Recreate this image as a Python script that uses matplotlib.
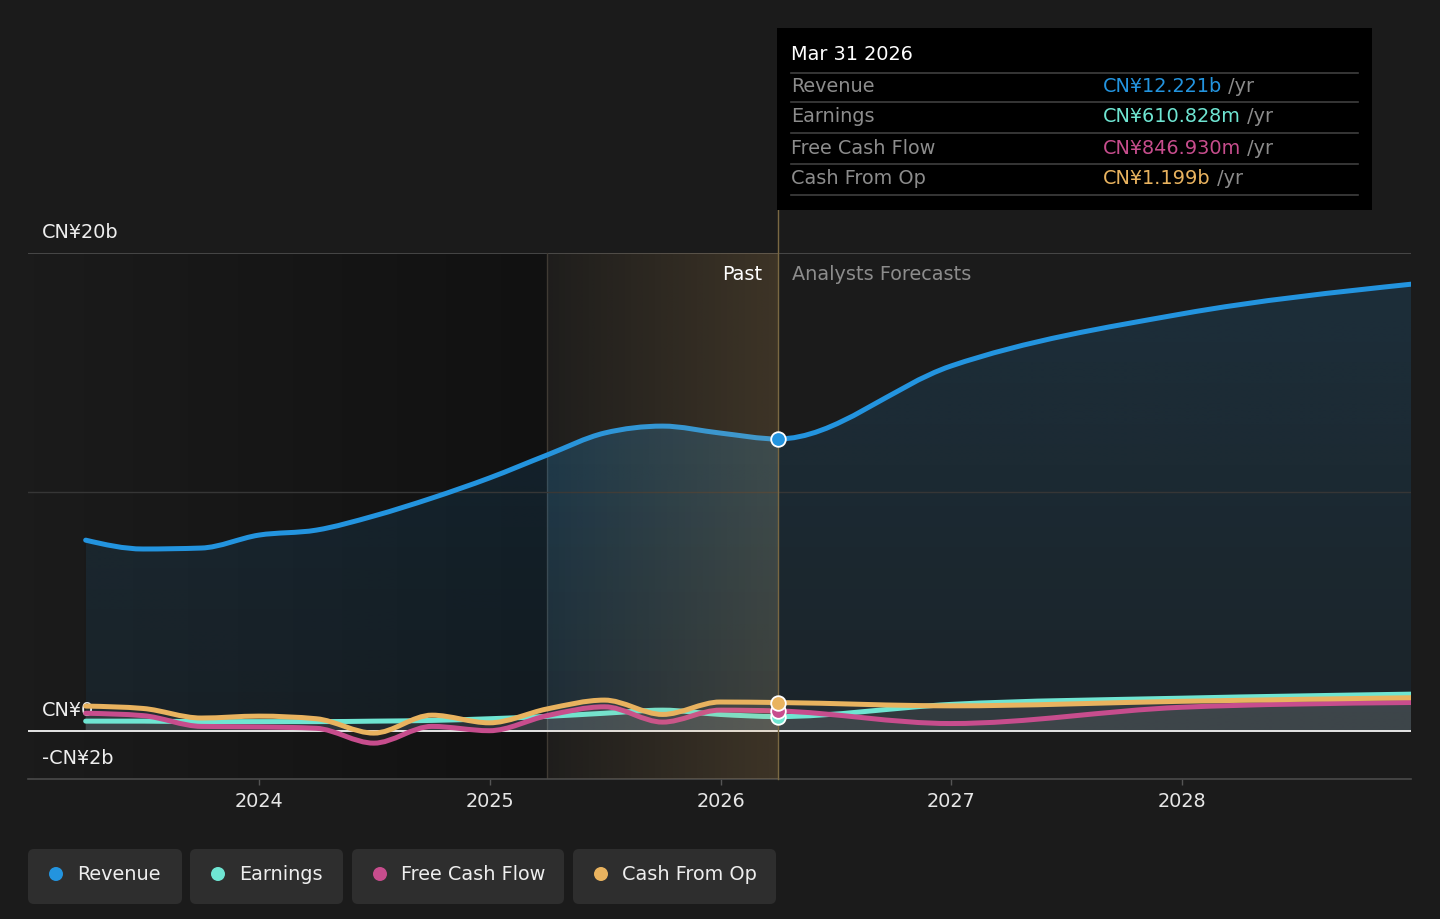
import numpy as np
import matplotlib
matplotlib.use("Agg")
import matplotlib.pyplot as plt
from matplotlib.path import Path
from matplotlib.patches import PathPatch, FancyBboxPatch, Rectangle, Circle
from matplotlib.colors import to_rgb

# ---------------- data (values in CN¥ billions, dates as decimal years) ----------------
past_dates = [2023.247, 2023.496, 2023.748, 2023.997, 2024.247, 2024.496, 2024.748,
              2024.997, 2025.247, 2025.496, 2025.748, 2025.997, 2026.247]
forecast_dates = [2026.997, 2027.997, 2028.997]

revenue_past = [7.99, 7.62, 7.66, 8.20, 8.41, 9.00, 9.75, 10.59, 11.55, 12.47, 12.76, 12.47, 12.221]
revenue_fc = [15.27, 17.45, 18.70]
earnings_past = [0.42, 0.42, 0.40, 0.40, 0.40, 0.42, 0.45, 0.52, 0.62, 0.75, 0.88, 0.70, 0.611]
earnings_fc = [1.12, 1.38, 1.55]
fcf_past = [0.75, 0.65, 0.20, 0.18, 0.12, -0.50, 0.20, 0.02, 0.65, 1.02, 0.38, 0.88, 0.847]
fcf_fc = [0.32, 1.00, 1.20]
cfo_past = [1.05, 0.95, 0.55, 0.63, 0.52, -0.08, 0.67, 0.35, 0.93, 1.30, 0.70, 1.22, 1.199]
cfo_fc = [1.06, 1.25, 1.40]

series_names = ["Revenue", "Earnings", "Free Cash Flow", "Cash From Op"]
series_colors = ["#2394df", "#6fe5d2", "#c74d8d", "#e9b35f"]

year_ticks = [2024, 2025, 2026, 2027, 2028]
year_labels = ["2024", "2025", "2026", "2027", "2028"]
y_label_values = [20, 0, -2]
y_label_texts = ["CN¥20b", "CN¥0", "-CN¥2b"]

highlight_start = 2025.247
today = 2026.247
tooltip_date = "Mar 31 2026"
tooltip_values = ["CN¥12.221b", "CN¥610.828m", "CN¥846.930m", "CN¥1.199b"]

# ---------------- helpers ----------------
def monotone_path(xs, ys, close_to_zero=False):
    """Bezier path of a monotone-X cubic through the data points (d3 curveMonotoneX)."""
    xs = np.asarray(xs, float)
    ys = np.asarray(ys, float)
    n = len(xs)
    h = np.diff(xs)
    s = np.diff(ys) / h
    t = np.zeros(n)
    sg = lambda v: -1.0 if v < 0 else 1.0
    for i in range(1, n - 1):
        p = (s[i - 1] * h[i] + s[i] * h[i - 1]) / (h[i - 1] + h[i])
        t[i] = (sg(s[i - 1]) + sg(s[i])) * min(abs(s[i - 1]), abs(s[i]), 0.5 * abs(p))
    t[0] = (3 * s[0] - t[1]) / 2
    t[-1] = (3 * s[-1] - t[-2]) / 2
    verts = [(xs[0], ys[0])]
    codes = [Path.MOVETO]
    for i in range(n - 1):
        dx = h[i] / 3
        verts += [(xs[i] + dx, ys[i] + dx * t[i]),
                  (xs[i + 1] - dx, ys[i + 1] - dx * t[i + 1]),
                  (xs[i + 1], ys[i + 1])]
        codes += [Path.CURVE4] * 3
    if close_to_zero:
        verts += [(xs[-1], 0), (xs[0], 0), (xs[0], 0)]
        codes += [Path.LINETO, Path.LINETO, Path.CLOSEPOLY]
    return Path(verts, codes)


def gradient_image(ax, color, a0, a1, extent, horizontal, zorder, clip=None):
    rgb = to_rgb(color)
    if horizontal:
        g = np.zeros((2, 256, 4))
        g[..., 3] = np.linspace(a0, a1, 256)[None, :]
    else:
        g = np.zeros((256, 2, 4))
        g[..., 3] = np.linspace(a0, a1, 256)[:, None]
    g[..., 0], g[..., 1], g[..., 2] = rgb
    im = ax.imshow(g, extent=extent, origin="lower", aspect="auto",
                   interpolation="bilinear", zorder=zorder)
    if clip is not None:
        im.set_clip_path(clip)
    return im


# ---------------- figure ----------------
W, H = 1440, 919
BG = "#1b1b1b"
plt.rcParams["font.family"] = ["DejaVu Sans"]
FS = 13.9

fig = plt.figure(figsize=(W / 100, H / 100), dpi=100, facecolor=BG)
L, R, T, B = 28, 1411, 253, 779
ax = fig.add_axes([L / W, 1 - B / H, (R - L) / W, (B - T) / H])
ax.set_facecolor(BG)

XMIN, XMAX = 2022.997, 2028.992
YMIN, YMAX = -2, 20

# past region darkening
gradient_image(ax, "#000000", 0.0, 0.37, [XMIN, highlight_start, YMIN, YMAX], True, 0.3)

# gridlines
ax.axhline(20, color="#4f4f4f", lw=1.2, zorder=1)
ax.axhline(10, color="#363636", lw=1.0, zorder=2.6)
ax.axvline(highlight_start, color="#3d3934", lw=1.0, zorder=1)

# series
all_dates = past_dates + forecast_dates
series = [revenue_past + revenue_fc, earnings_past + earnings_fc,
          fcf_past + fcf_fc, cfo_past + cfo_fc]

# revenue area (vertical gradient)
rev_fill = PathPatch(monotone_path(all_dates, series[0], True), transform=ax.transData,
                     facecolor="none", edgecolor="none")
ax.add_patch(rev_fill)
gradient_image(ax, series_colors[0], 0.075, 0.16, [all_dates[0], all_dates[-1], 0, max(series[0])],
               False, 2, clip=rev_fill)
# brighter fill inside highlighted period
gradient_image(ax, series_colors[0], 0.06, 0.17, [highlight_start, today, 0, max(series[0])],
               False, 2.1, clip=rev_fill)

# small series areas
for vals in series[1:]:
    p = PathPatch(monotone_path(all_dates, vals, True), transform=ax.transData,
                  facecolor="#ffffff", edgecolor="none", alpha=0.055, zorder=2.2)
    ax.add_patch(p)

# zero line
ax.axhline(0, color="#e6e6e6", lw=1.4, zorder=3.5)

# lines
for vals, col in zip(series, series_colors):
    ax.add_patch(PathPatch(monotone_path(all_dates, vals), transform=ax.transData,
                           facecolor="none", edgecolor=col, lw=3.6,
                           capstyle="round", joinstyle="round", zorder=4))

# highlight overlay (golden, ramps to the right)
gradient_image(ax, "#e8b060", 0.02, 0.17, [highlight_start, today, YMIN, YMAX], True, 4.5)

# today divider
ax.axvline(today, ymin=0, ymax=(B - 210) / (B - T), color="#7a6842", lw=1.0,
           clip_on=False, zorder=5)

# markers at today
idx = past_dates.index(today)
for vals, col in zip(series, series_colors):
    ax.plot([today], [vals[idx]], "o", ms=10.5, mfc=col, mec="white", mew=1.3,
            zorder=6, clip_on=False)

# labels Past / Analysts Forecasts
ax.annotate("Past", xy=(today, 1), xycoords=("data", "axes fraction"), xytext=(-15, -21),
            textcoords="offset pixels", ha="right", va="center", color="#ffffff",
            fontsize=FS, zorder=7, annotation_clip=False)
ax.annotate("Analysts Forecasts", xy=(today, 1), xycoords=("data", "axes fraction"),
            xytext=(14, -21), textcoords="offset pixels", ha="left", va="center",
            color="#8c8c8c", fontsize=FS, zorder=7, annotation_clip=False)

# y labels
for v, txt in zip(y_label_values, y_label_texts):
    ax.annotate(txt, xy=(0, v), xycoords=("axes fraction", "data"), xytext=(14, 21),
                textcoords="offset pixels", ha="left", va="center", color="#eeeeee",
                fontsize=FS, zorder=1.5, annotation_clip=False)

ax.set_xlim(XMIN, XMAX)
ax.set_ylim(YMIN, YMAX)
ax.set_yticks([])
ax.set_xticks(year_ticks)
ax.set_xticklabels(year_labels)
ax.tick_params(axis="x", colors="#555555", length=4.3, width=1, pad=5,
               labelcolor="#e6e6e6", labelsize=FS)
for side in ["top", "left", "right"]:
    ax.spines[side].set_visible(False)
ax.spines["bottom"].set_color("#4a4a4a")
ax.spines["bottom"].set_linewidth(1.2)
ax.spines["bottom"].set_position(("data", YMIN))

# ---------------- overlay (tooltip + legend) in pixel coordinates ----------------
ov = fig.add_axes([0, 0, 1, 1], zorder=10)
ov.set_xlim(0, W)
ov.set_ylim(H, 0)
ov.axis("off")
ov.patch.set_alpha(0)

ov.add_patch(Rectangle((777, 28), 595, 182, facecolor="#000000", edgecolor="none"))
ov.text(791, 55, tooltip_date, color="#ffffff", fontsize=FS, va="center", ha="left")
for ysep in [73, 102, 133, 164, 195]:
    ov.plot([791, 1358], [ysep, ysep], color="#3f3f3f", lw=1.2)
row_y = [87, 117, 148, 178]
for name, val, col, yy in zip(series_names, tooltip_values, series_colors, row_y):
    ov.text(791, yy, name, color="#8c8c8c", fontsize=FS, va="center", ha="left")
    t = ov.text(1103, yy, val, color=col, fontsize=FS, va="center", ha="left")
    ov.annotate(" /yr", xy=(1, 0), xycoords=t, va="bottom", ha="left",
                color="#8c8c8c", fontsize=FS)

# legend buttons
legend_boxes = [(28, 182), (190, 343), (352, 564), (573, 776)]
for (x0, x1), name, col in zip(legend_boxes, series_names, series_colors):
    ov.add_patch(FancyBboxPatch((x0, 849), x1 - x0, 55,
                                boxstyle="round,pad=0,rounding_size=6",
                                facecolor="#2e2e2e", edgecolor="none"))
    ov.add_patch(Circle((x0 + 28, 874), 7, facecolor=col, edgecolor="none"))
    ov.text(x0 + 49, 874, name, color="#eeeeee", fontsize=FS, va="center", ha="left")

fig.savefig("out.png", dpi=100, facecolor=BG)
